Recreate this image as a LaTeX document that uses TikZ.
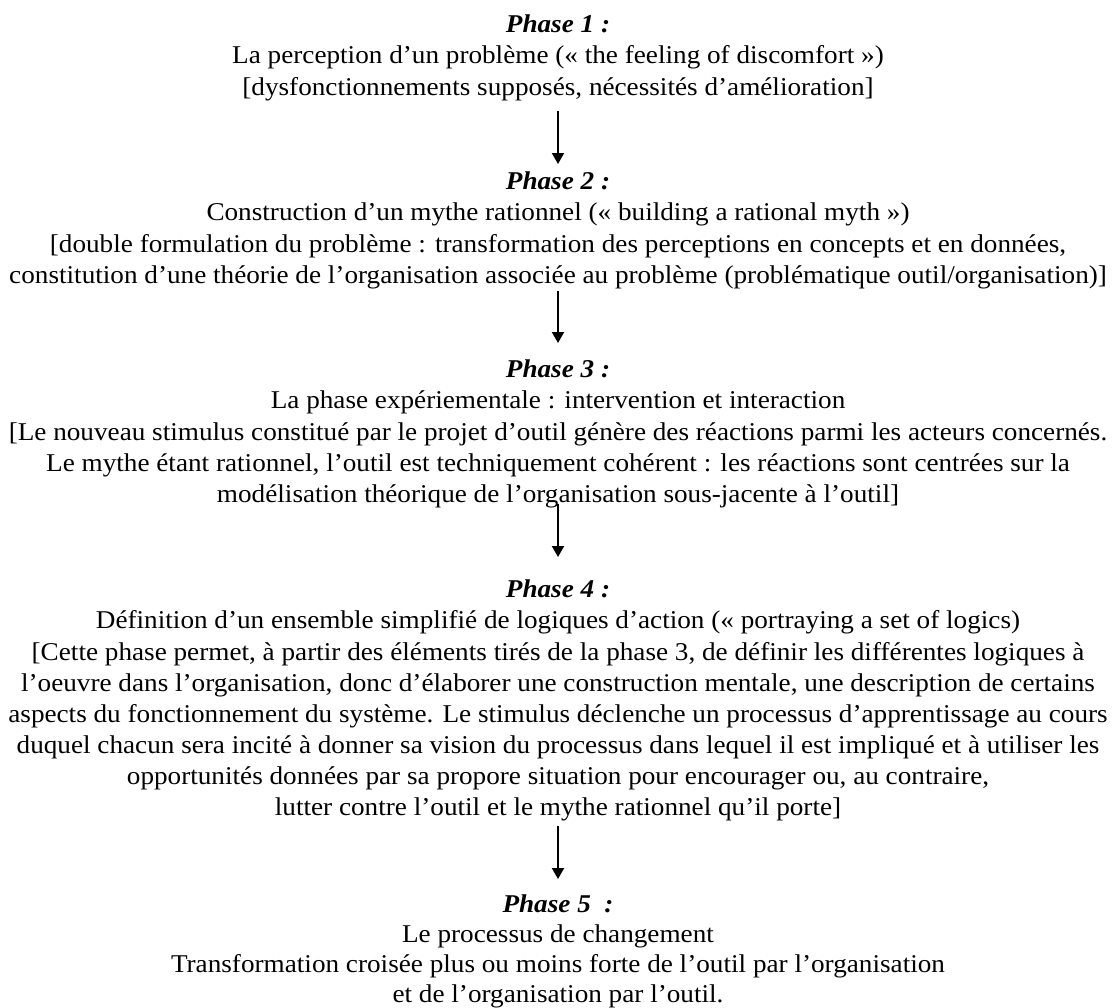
\documentclass[tikz,border=0pt]{standalone}
\usepackage{fontspec}
\setmainfont{Liberation Serif}[FakeStretch=1.062]
\usetikzlibrary{arrows.meta}
\begin{document}
\begin{tikzpicture}[x=0.5pt,y=-0.5pt,
  phase/.style={anchor=north,align=center,inner sep=0pt,font=\fontsize{12.8}{15.55}\selectfont},
  arr/.style={-{Triangle[length=5.5pt,width=6pt]},line width=1pt}]
\useasboundingbox (0,0) rectangle (1118,1007);
\node[phase] (p1) at (558,14.7) {\textbf{\textit{Phase 1 :}}\\
La perception d’un problème (« the feeling of discomfort »)\\
{[}dysfonctionnements supposés, nécessités d’amélioration]};
\node[phase] (p2) at (558,171.7) {\textbf{\textit{Phase 2 :}}\\
Construction d’un mythe rationnel (« building a rational myth »)\\
{[}double formulation du problème : transformation des perceptions en concepts et en données,\\
constitution d’une théorie de l’organisation associée au problème (problématique outil/organisation)]};
\node[phase] (p3) at (558,359.7) {\textbf{\textit{Phase 3 :}}\\
La phase expériementale : intervention et interaction\\
{[}Le nouveau stimulus constitué par le projet d’outil génère des réactions parmi les acteurs concernés.\\
Le mythe étant rationnel, l’outil est techniquement cohérent : les réactions sont centrées sur la\\
modélisation théorique de l’organisation sous-jacente à l’outil]};
\node[phase] (p4) at (558,579.7) {\textbf{\textit{Phase 4 :}}\\
Définition d’un ensemble simplifié de logiques d’action (« portraying a set of logics)\\
{[}Cette phase permet, à partir des éléments tirés de la phase 3, de définir les différentes logiques à\\
l’oeuvre dans l’organisation, donc d’élaborer une construction mentale, une description de certains\\
aspects du fonctionnement du système. Le stimulus déclenche un processus d’apprentissage au cours\\
duquel chacun sera incité à donner sa vision du processus dans lequel il est impliqué et à utiliser les\\
opportunités données par sa propore situation pour encourager ou, au contraire,\\
lutter contre l’outil et le mythe rationnel qu’il porte]};
\node[phase,font=\fontsize{12.8}{15}\selectfont] (p5) at (558,894.7) {\textbf{\textit{Phase 5\ \ :}}\\
Le processus de changement\\
Transformation croisée plus ou moins forte de l’outil par l’organisation\\
et de l’organisation par l’outil.};
\draw[arr] ([yshift=-5.1pt]p1.south) -- ([yshift=3.85pt]p2.north);
\draw[arr] ([yshift=-1pt]p2.south) -- ([yshift=8.35pt]p3.north);
\draw[arr] ([yshift=2pt]p3.south) -- ([yshift=11.35pt]p4.north);
\draw[arr] ([yshift=-2.35pt]p4.south) -- ([yshift=7.85pt]p5.north);
\end{tikzpicture}
\end{document}
